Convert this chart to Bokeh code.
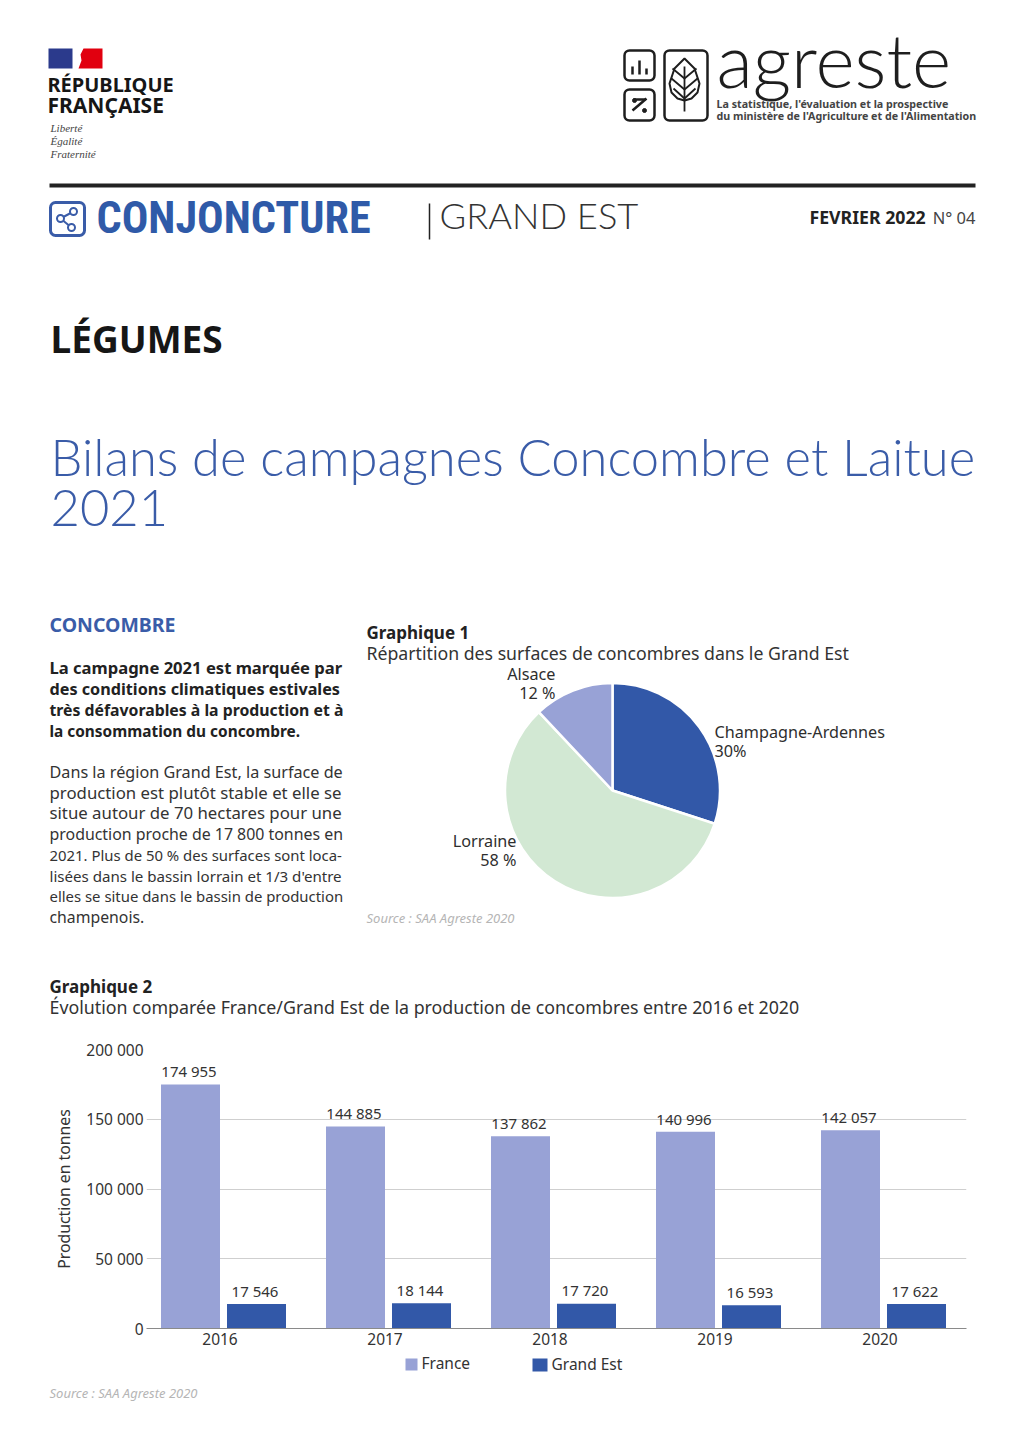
from math import pi
import numpy as np
from bokeh.plotting import figure
from bokeh.layouts import column, row
from bokeh.models import Range1d, FixedTicker
from bokeh.core.properties import value
from bokeh.embed import file_html
from bokeh.resources import INLINE

# ---- data ----
regions = ["Champagne-Ardennes", "Lorraine", "Alsace"]
region_share = [30, 58, 12]
region_colors = ["#3258A8", "#D2E8D3", "#98A2D6"]
years = [2016, 2017, 2018, 2019, 2020]
france = [174955, 144885, 137862, 140996, 142057]
grand_est = [17546, 18144, 17720, 16593, 17622]
y_ticks = [0, 50000, 100000, 150000, 200000]
series_names = ["France", "Grand Est"]
series_colors = ["#98A2D6", "#3258A8"]

BLUE = "#3A5CA8"
INK = "#2E2E2E"
FONT = "Noto Sans"
LIGHT = "Lato Light"
NARROW = "Roboto Condensed, Liberation Sans"
BASE_SHIFT = 0.42  # baseline correction, as a share of the font size

def band(x0, y0, w, h):
    """Blank figure whose data coordinates are page pixels."""
    p = figure(width=w, height=h, x_range=Range1d(x0, x0 + w), y_range=Range1d(y0 + h, y0),
               output_backend="svg", toolbar_location=None, frame_align=False,
               x_axis_location=None, y_axis_location=None, min_border=0)
    p.grid.visible = False
    p.outline_line_color = None
    return p

def txt(p, x, y, s, size, color=INK, font=FONT, style="normal", align="left"):
    p.text(x=[x], y=[y], text=[s], y_offset=-BASE_SHIFT * size,
           text_font=value(font), text_font_size=f"{size}px",
           text_color=color, text_font_style=style, text_align=align, text_baseline="alphabetic")

def box(p, l, t, r, b, color, lw, radius):
    p.quad(left=[l], right=[r], top=[t], bottom=[b], fill_color=None, line_color=color,
           line_width=lw, border_radius=radius)

# ---- header band ----
top = band(0, 0, 1024, 610)
top.quad(left=[48], right=[72], top=[48], bottom=[68], fill_color="#2B3A8C", line_color=None)
top.patch(x=[83, 102, 102, 78, 81, 80], y=[48, 48, 68, 68, 60, 54], fill_color="#E1000F", line_color=None)
txt(top, 47, 92, "RÉPUBLIQUE", 20, "#161616", style="bold")
txt(top, 47, 113, "FRANÇAISE", 21, "#161616", style="bold")
for yy, s in zip([132, 145, 158], ["Liberté", "Égalité", "Fraternité"]):
    txt(top, 50, yy, s, 11, "#444444", font="Liberation Serif", style="italic")

# agreste mark
box(top, 624, 50, 654, 80, "#1E1E1E", 2.5, 5)
box(top, 624, 89, 654, 120, "#1E1E1E", 2.5, 5)
box(top, 664, 50, 707, 120, "#1E1E1E", 2.5, 5)
top.multi_line(xs=[[632, 632], [639, 639], [646, 646], [632, 646], [633, 645]],
               ys=[[66, 74], [60, 74], [68, 74], [110, 98], [99, 99]], line_color="#1E1E1E", line_width=2.5)
top.scatter(x=[634, 644], y=[100, 110], size=4, color="#1E1E1E")
top.patch(x=[684, 694, 699, 697, 691, 684, 677, 671, 669, 674],
          y=[58, 68, 83, 92, 98, 100, 98, 92, 83, 68],
          fill_color=None, line_color="#1E1E1E", line_width=2)
top.multi_line(xs=[[684, 684], [672, 684, 696], [671, 684, 697], [673, 684, 695]],
               ys=[[66, 111], [68, 78, 68], [78, 89, 78], [88, 98, 88]],
               line_color="#1E1E1E", line_width=1.8)
txt(top, 716, 90, "agreste", 75, "#1E1E1E", font="Lato Light")
txt(top, 716, 108, "La statistique, l'évaluation et la prospective", 10.7, "#444444", style="bold")
txt(top, 716, 120, "du ministère de l'Agriculture et de l'Alimentation", 10.7, "#444444", style="bold")

# rule and banner
top.segment(x0=[49], y0=[185], x1=[975], y1=[185], line_color="#222222", line_width=4)
box(top, 50, 202, 84, 235, BLUE, 3, 5)
top.multi_line(xs=[[60, 73], [60, 71]], ys=[[218, 211], [218, 227]], line_color=BLUE, line_width=2)
top.scatter(x=[60, 73, 71], y=[218, 211, 227], size=7, fill_color="white", line_color=BLUE, line_width=2)
txt(top, 96, 236, "CONJONCTURE", 44.2, "#2F5AA8", font=NARROW, style="bold")
top.segment(x0=[429], y0=[203], x1=[429], y1=[239], line_color="#222222", line_width=1.5)
txt(top, 439, 230, "GRAND EST", 36.3, "#333333", font=LIGHT)
txt(top, 809, 224, "FEVRIER 2022", 17.7, "#222222", style="bold")
txt(top, 975, 224, "N° 04", 16.5, "#444444", align="right")

txt(top, 50, 354, "LÉGUMES", 37, "#161616", style="bold")
txt(top, 50, 477, "Bilans de campagnes Concombre et Laitue", 50.7, BLUE, font=LIGHT)
txt(top, 50, 529, "2021", 50.7, BLUE, font=LIGHT)

# ---- left text column ----
left = band(0, 610, 358, 340)
txt(left, 49, 632, "CONCOMBRE", 19.5, BLUE, style="bold")
bold_lines = ["La campagne 2021 est marquée par", "des conditions climatiques estivales",
              "très défavorables à la production et à", "la consommation du concombre."]
bold_sizes = [16.6, 16.2, 15.8, 15.4]
for yy, s, fs in zip([674, 695, 716, 737], bold_lines, bold_sizes):
    txt(left, 49, yy, s, fs, "#222222", style="bold")
body_lines = ["Dans la région Grand Est, la surface de", "production est plutôt stable et elle se",
              "situe autour de 70 hectares pour une", "production proche de 17 800 tonnes en",
              "2021. Plus de 50 % des surfaces sont loca-", "lisées dans le bassin lorrain et 1/3 d'entre",
              "elles se situe dans le bassin de production", "champenois."]
body_sizes = [16.2, 16.8, 16.8, 15.9, 14.9, 15.1, 14.9, 15.8]
for yy, s, fs in zip([778, 799, 819, 840, 861, 882, 902, 923], body_lines, body_sizes):
    txt(left, 49, yy, s, fs, "#333333")

# ---- pie chart ----
CX, CY, R = 612, 790, 107.5
PX0, PY0, PW, PH = 358, 610, 666, 340
pie = figure(width=PW, height=PH, output_backend="svg", toolbar_location=None, frame_align=False,
             x_range=Range1d((PX0 - CX) / R, (PX0 + PW - CX) / R),
             y_range=Range1d((CY - PY0 - PH) / R, (CY - PY0) / R),
             x_axis_location=None, y_axis_location=None, min_border=0)
pie.grid.visible = False
pie.outline_line_color = None
edges = np.cumsum([0] + region_share) / sum(region_share)
for i, c in enumerate(region_colors):
    pie.wedge(x=[0], y=[0], radius=1, start_angle=[pi / 2 - 2 * pi * edges[i + 1]],
              end_angle=[pi / 2 - 2 * pi * edges[i]], fill_color=c, line_color="white", line_width=2.5)

def ptxt(x, y, s, size, color=INK, style="normal", align="left"):
    txt(pie, (x - CX) / R, (CY - y) / R, s, size, color, style=style, align=align)

ptxt(366, 639, "Graphique 1", 17, "#222222", style="bold")
ptxt(366, 660, "Répartition des surfaces de concombres dans le Grand Est", 17.7, "#333333")
ptxt(555, 680, regions[2], 16.2, align="right")
ptxt(555, 699, f"{region_share[2]} %", 16.2, align="right")
ptxt(714, 738, regions[0], 16.2)
ptxt(714, 757, f"{region_share[0]}%", 16.2)
ptxt(516, 847, regions[1], 16.2, align="right")
ptxt(516, 866, f"{region_share[1]} %", 16.2, align="right")
ptxt(366, 923, "Source : SAA Agreste 2020", 13, "#B5B5B5", style="italic")

# ---- heading of chart 2 ----
mid = band(0, 950, 1024, 79)
txt(mid, 49, 993, "Graphique 2", 17, "#222222", style="bold")
txt(mid, 49, 1014, "Évolution comparée France/Grand Est de la production de concombres entre 2016 et 2020", 17.8, "#333333")

# ---- bar chart ----
PERIOD = 165.0
ORIGIN = 219.5
FL, FR = 146, 966
bars = figure(width=1024, height=323, output_backend="svg", toolbar_location=None, frame_align=False,
              x_range=Range1d(2016 + (FL - ORIGIN) / PERIOD, 2016 + (FR - ORIGIN) / PERIOD),
              y_range=Range1d(0, 200000),
              min_border_left=FL, min_border_right=1024 - FR, min_border_top=20, min_border_bottom=24)
bars.outline_line_color = None
bars.xgrid.visible = False
bars.ygrid.ticker = FixedTicker(ticks=y_ticks)
bars.ygrid.grid_line_color = "#CFCFCF"
bars.ygrid.grid_line_width = 1.2
bars.yaxis.ticker = FixedTicker(ticks=y_ticks)
bars.yaxis.major_label_overrides = {v: f"{v:,}".replace(",", " ") for v in y_ticks}
bars.xaxis.ticker = FixedTicker(ticks=years)
bars.xaxis.major_label_overrides = {v: str(v) for v in years}
for ax in (bars.xaxis, bars.yaxis):
    ax.major_tick_line_color = None
    ax.minor_tick_line_color = None
    ax.major_tick_out = 0
    ax.major_tick_in = 0
    ax.major_label_text_font = FONT
    ax.major_label_text_font_size = "15.5px"
    ax.major_label_text_color = "#333333"
bars.yaxis.axis_line_color = None
bars.yaxis.major_label_standoff = 3
bars.xaxis.axis_line_color = "#8A8A8A"
bars.xaxis.axis_line_width = 1.2
bars.xaxis.major_label_standoff = 4
bars.yaxis.axis_label = "Production en tonnes"
bars.yaxis.axis_label_text_font = FONT
bars.yaxis.axis_label_text_font_style = "normal"
bars.yaxis.axis_label_text_font_size = "15.8px"
bars.yaxis.axis_label_text_color = "#333333"
bars.yaxis.axis_label_standoff = 8

FR_OFF, GE_OFF, BW = -29.5 / PERIOD, 36.5 / PERIOD, 59 / PERIOD
x_fr = [y + FR_OFF for y in years]
x_ge = [y + GE_OFF for y in years]
bars.vbar(x=x_fr, top=france, width=BW, fill_color=series_colors[0], line_color=None)
bars.vbar(x=x_ge, top=grand_est, width=BW, fill_color=series_colors[1], line_color=None)
for xs, vals in ((x_fr, france), (x_ge, grand_est)):
    bars.text(x=xs, y=vals, text=[f"{v:,}".replace(",", " ") for v in vals], x_offset=-1.5,
              y_offset=-7 - BASE_SHIFT * 15,
              text_font=value(FONT), text_font_size="15px", text_color="#333333",
              text_align="center", text_baseline="alphabetic")

# ---- legend and source ----
foot = band(0, 1352, 1024, 58)
foot.quad(left=[405, 532], right=[417, 547], top=[1358, 1358], bottom=[1370, 1371],
          fill_color=series_colors, line_color=None)
txt(foot, 421, 1369, series_names[0], 15.5, "#333333")
txt(foot, 551, 1370, series_names[1], 15.5, "#333333")
txt(foot, 49, 1398, "Source : SAA Agreste 2020", 13, "#B5B5B5", style="italic")

page = column(top, row(left, pie, spacing=0), mid, bars, foot, spacing=0)
open("out.html", "w").write(file_html(page, INLINE))
